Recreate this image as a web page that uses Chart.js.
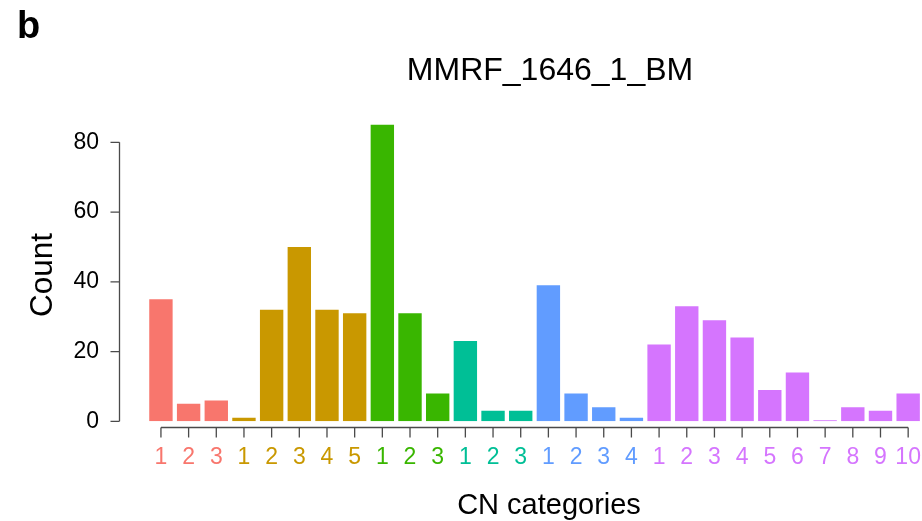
<!DOCTYPE html>
<html>
<head>
<meta charset="utf-8">
<title>MMRF_1646_1_BM</title>
<script src="https://cdn.jsdelivr.net/npm/chart.js@4/dist/chart.umd.min.js"></script>
<style>
  html, body { margin: 0; padding: 0; background: #ffffff; overflow: hidden; }
  #wrap { width: 922px; height: 521px; position: relative; }
</style>
</head>
<body>
<div id="wrap"><canvas id="chart"></canvas></div>
<script>
// Copy-number categories, grouped; each group restarts its numbering
const groupSizes  = [3, 5, 3, 3, 4, 10];
const groupColors = ['#F8766D', '#C99800', '#39B600', '#00BF96', '#619CFF', '#D575FE'];
const categories  = ['1','2','3', '1','2','3','4','5', '1','2','3', '1','2','3',
                     '1','2','3','4', '1','2','3','4','5','6','7','8','9','10'];
const counts      = [35, 5, 6, 1, 32, 50, 32, 31, 85, 31, 8, 23, 3, 3,
                     39, 8, 4, 1, 22, 33, 29, 24, 9, 14, 0, 4, 3, 8];
const yTicks      = [0, 20, 40, 60, 80];

const plotTitle  = 'MMRF_1646_1_BM';
const panelTag   = 'b';
const xTitle     = 'CN categories';
const yTitle     = 'Count';

// one colour per bar, taken from the group it belongs to
const barColors = [];
groupSizes.forEach((n, g) => { for (let i = 0; i < n; i++) barColors.push(groupColors[g]); });

const FONT = '"Liberation Sans", Arial, Helvetica, sans-serif';

// base-graphics style axes: detached lines with outward ticks, plus titles
const baseAxes = {
  id: 'baseAxes',
  afterDraw(chart) {
    const { ctx, chartArea, scales: { x, y } } = chart;
    ctx.save();
    ctx.strokeStyle = '#4a4a4a';
    ctx.lineWidth = 1.3;
    ctx.beginPath();
    // y axis
    const ax = Math.round(chartArea.left - 28.5) + 0.5;
    ctx.moveTo(ax, y.getPixelForValue(yTicks[0]));
    ctx.lineTo(ax, y.getPixelForValue(yTicks[yTicks.length - 1]));
    yTicks.forEach(v => {
      const p = y.getPixelForValue(v);
      ctx.moveTo(ax - 9, p);
      ctx.lineTo(ax, p);
    });
    // x axis
    const by = Math.round(chartArea.bottom + 6) + 0.5;
    ctx.moveTo(x.getPixelForTick(0), by);
    ctx.lineTo(x.getPixelForTick(categories.length - 1), by);
    categories.forEach((c, i) => {
      const p = x.getPixelForTick(i);
      ctx.moveTo(p, by);
      ctx.lineTo(p, by + 10);
    });
    ctx.stroke();

    // titles
    ctx.fillStyle = '#000000';
    ctx.textBaseline = 'alphabetic';
    ctx.textAlign = 'center';
    ctx.font = '32px ' + FONT;
    ctx.fillText(plotTitle, 550, 80);
    ctx.font = '29px ' + FONT;
    ctx.fillText(xTitle, 549, 514);
    ctx.save();
    ctx.translate(52, 275);
    ctx.rotate(-Math.PI / 2);
    ctx.font = '31.5px ' + FONT;
    ctx.fillText(yTitle, 0, 0);
    ctx.restore();
    ctx.textAlign = 'left';
    ctx.font = 'bold 38px ' + FONT;
    ctx.fillText(panelTag, 17, 38);
    ctx.restore();
  }
};

new Chart(document.getElementById('chart'), {
  type: 'bar',
  data: {
    labels: categories,
    datasets: [{
      data: counts,
      backgroundColor: barColors,
      borderWidth: 0,
      minBarLength: 1,
      categoryPercentage: 1,
      barPercentage: 0.845
    }]
  },
  options: {
    responsive: true,
    maintainAspectRatio: false,
    devicePixelRatio: 1,
    animation: false,
    layout: { padding: { top: 114.4, left: 0, right: 0, bottom: 0 } },
    plugins: {
      legend: { display: false },
      title: { display: false },
      tooltip: { enabled: false }
    },
    scales: {
      x: {
        type: 'category',
        offset: true,
        grid: { display: false, drawTicks: true, tickLength: 22.5 },
        border: { display: false },
        ticks: {
          autoSkip: false,
          maxRotation: 0,
          minRotation: 0,
          padding: 0,
          font: { family: FONT, size: 23 },
          color: ctx => barColors[ctx.index]
        },
        afterFit: s => { s.height = 99.7; }
      },
      y: {
        min: 0,
        max: 88,
        grid: { display: false, drawTicks: true, tickLength: 48 },
        border: { display: false },
        afterBuildTicks: s => { s.ticks = yTicks.map(v => ({ value: v })); },
        ticks: {
          padding: 0,
          font: { family: FONT, size: 23 },
          color: '#000000'
        },
        afterFit: s => { s.width = 147.1; }
      }
    }
  },
  plugins: [baseAxes]
});
</script>
</body>
</html>
